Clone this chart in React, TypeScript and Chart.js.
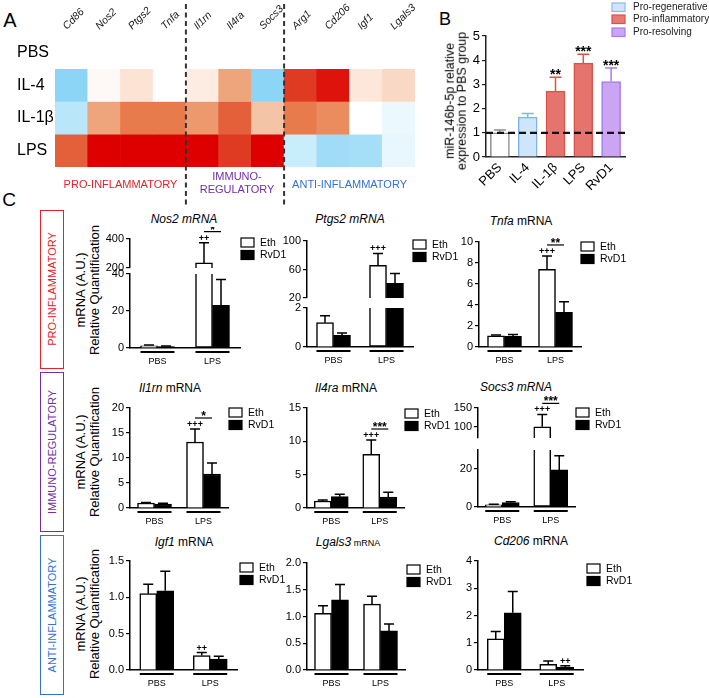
import React, { useEffect, useRef } from 'react';
import { Chart, registerables } from 'chart.js';

Chart.register(...registerables);
const FONT = "'Liberation Sans', Arial, Helvetica, sans-serif";
Chart.defaults.font.family = FONT;
Chart.defaults.color = '#000';

// ================= Panel A (heatmap) =================
const HEAT_GENES = ['Cd86', 'Nos2', 'Ptgs2', 'Tnfa', 'Il1rn', 'Il4ra', 'Socs3', 'Arg1', 'Cd206', 'Igf1', 'Lgals3'];
const HEAT_CONDITIONS = ['PBS', 'IL-4', 'IL-1β', 'LPS'];
const HEAT_PBS = [0, 0, 0, 0, 0, 0, 0, 0, 0, 0, 0];
const HEAT_IL4 = [-0.95, 0.03, 0.15, 0, 0.1, 0.45, -0.95, 0.85, 0.95, 0.13, 0.2];
const HEAT_IL1B = [-0.5, 0.45, 0.62, 0.62, 0.5, 0.72, 0.3, 0.62, 0.55, 0, -0.15];
const HEAT_LPS = [0.72, 1, 1, 1, 1, 0.85, 1, -0.4, -0.8, -0.75, -0.17];
const HEAT_GROUPS = ['PRO-INFLAMMATORY', 'IMMUNO-\nREGULATORY', 'ANTI-INFLAMMATORY'];
const HEAT_GROUP_SPANS = [[0, 3], [4, 6], [7, 10]];

// ================= Panel B =================
const B_GROUPS = ['PBS', 'IL-4', 'IL-1β', 'LPS', 'RvD1'];
const B_MEANS = [1.0, 1.65, 2.72, 3.88, 3.12];
const B_ERR = [1.12, 1.8, 3.3, 4.25, 3.68];
const B_SIG = ['', '', '**', '***', '***'];
const B_TICKS = [0, 1, 2, 3, 4, 5];
const B_REF = 1;
const B_LEGEND = ['Pro-regenerative', 'Pro-inflammatory', 'Pro-resolving'];

// ================= Panel C =================
const C_GROUPS = ['PBS', 'LPS'];
const SERIES_NAMES = ['Eth', 'RvD1'];

const NOS2_ETH = [1.2, 235];
const NOS2_ETH_ERR = [1.6, 375];
const NOS2_RVD1 = [0.8, 23];
const NOS2_RVD1_ERR = [1.1, 37];
const NOS2_TICKS = [0, 10, 20, 30, 40];
const NOS2_TICKS_HIGH = [200, 400];

const PTGS2_ETH = [1.25, 66];
const PTGS2_ETH_ERR = [1.6, 82.5];
const PTGS2_RVD1 = [0.6, 40.5];
const PTGS2_RVD1_ERR = [0.72, 54.5];
const PTGS2_TICKS = [0, 1, 2];
const PTGS2_TICKS_HIGH = [20, 40, 60, 80, 100];

const TNFA_ETH = [1.07, 7.4];
const TNFA_ETH_ERR = [1.15, 8.67];
const TNFA_RVD1 = [1.02, 3.3];
const TNFA_RVD1_ERR = [1.2, 4.3];
const TNFA_TICKS = [0, 2, 4, 6, 8, 10];

const IL1RN_ETH = [1.0, 13.2];
const IL1RN_ETH_ERR = [1.08, 15.8];
const IL1RN_RVD1 = [0.8, 6.8];
const IL1RN_RVD1_ERR = [0.95, 9.0];
const IL1RN_TICKS = [0, 5, 10, 15, 20];

const IL4RA_ETH = [1.05, 8.05];
const IL4RA_ETH_ERR = [1.2, 10.2];
const IL4RA_RVD1 = [1.7, 1.65];
const IL4RA_RVD1_ERR = [2.05, 2.35];
const IL4RA_TICKS = [0, 5, 10, 15];

const SOCS3_ETH = [1.2, 100];
const SOCS3_ETH_ERR = [1.5, 133];
const SOCS3_RVD1 = [2.3, 19.5];
const SOCS3_RVD1_ERR = [2.7, 27];
const SOCS3_TICKS = [0, 10, 20, 30];
const SOCS3_TICKS_HIGH = [100, 150];

const IGF1_ETH = [1.05, 0.2];
const IGF1_ETH_ERR = [1.18, 0.24];
const IGF1_RVD1 = [1.09, 0.15];
const IGF1_RVD1_ERR = [1.36, 0.19];
const IGF1_TICKS = [0, 0.5, 1.0, 1.5];

const LGALS3_ETH = [1.06, 1.23];
const LGALS3_ETH_ERR = [1.2, 1.38];
const LGALS3_RVD1 = [1.31, 0.73];
const LGALS3_RVD1_ERR = [1.6, 0.86];
const LGALS3_TICKS = [0, 0.5, 1.0, 1.5, 2.0];

const CD206_ETH = [1.14, 0.21];
const CD206_ETH_ERR = [1.41, 0.33];
const CD206_RVD1 = [2.1, 0.11];
const CD206_RVD1_ERR = [2.88, 0.16];
const CD206_TICKS = [0, 1, 2, 3, 4];

// ================= styling =================
const RED_STOPS: [number, number[]][] = [
  [0, [255, 255, 255]], [0.15, [252, 227, 212]], [0.3, [244, 196, 166]], [0.45, [238, 165, 124]],
  [0.6, [232, 128, 79]], [0.72, [228, 96, 58]], [0.85, [223, 58, 34]], [1, [222, 0, 0]],
];
const BLUE_STOPS: [number, number[]][] = [
  [0, [255, 255, 255]], [0.2, [228, 246, 253]], [0.4, [200, 237, 251]], [0.5, [185, 231, 249]],
  [0.8, [160, 220, 247]], [1, [134, 210, 245]],
];
function heatColor(v: number): string {
  const stops = v >= 0 ? RED_STOPS : BLUE_STOPS;
  const a = Math.min(Math.abs(v), 1);
  for (let i = 1; i < stops.length; i++) {
    if (a <= stops[i][0]) {
      const [t0, c0] = stops[i - 1];
      const [t1, c1] = stops[i];
      const f = (a - t0) / (t1 - t0);
      const c = c0.map((ch, j) => Math.round(ch + (c1[j] - ch) * f));
      return `rgb(${c[0]},${c[1]},${c[2]})`;
    }
  }
  const l = stops[stops.length - 1][1];
  return `rgb(${l[0]},${l[1]},${l[2]})`;
}

const B_FILLS = ['#ffffff', '#cfe5fb', '#e4746d', '#e4746d', '#c9a5f4'];
const B_BORDERS = ['#8c8c8c', '#80b2eb', '#dc5148', '#dc5148', '#a67aeb'];
const B_LEGEND_FILLS = ['#cfe5fb', '#e57b74', '#caa6f5'];
const B_LEGEND_BORDERS = ['#8ab8ec', '#dc4f46', '#a67bec'];
const SERIES_FILL = ['#ffffff', '#000000'];

const RED = '#e3232b';
const PURPLE = '#6e2fa8';
const BLUE = '#3471d6';

// ================= chart configs =================
const HX = 17; // heatmap canvas left
function heatConfig(): any {
  const rows = [HEAT_PBS, HEAT_IL4, HEAT_IL1B, HEAT_LPS];
  return {
    type: 'bar',
    data: {
      labels: HEAT_GENES,
      datasets: rows.map((row, i) => ({
        label: HEAT_CONDITIONS[i],
        data: row.map(() => 1),
        backgroundColor: row.map(heatColor),
        borderWidth: 0,
        barPercentage: 1,
        categoryPercentage: 1,
        xAxisID: 'x',
        yAxisID: 'y',
      })),
    },
    options: {
      responsive: false, animation: false, events: [],
      layout: { padding: { top: 0, left: 0, right: 12, bottom: 43 } },
      plugins: { legend: { display: false }, tooltip: { enabled: false } },
      scales: {
        x: {
          type: 'category', position: 'top', stacked: true,
          grid: { display: false, drawTicks: false }, border: { display: false },
          ticks: { display: false },
          afterFit: (sc: any) => { sc.height = 36; },
        },
        y: { type: 'linear', display: false, min: 0, max: 4, reverse: true, stacked: true },
        rows: {
          type: 'category', labels: HEAT_CONDITIONS, position: 'left', offset: true,
          grid: { display: false, drawTicks: false }, border: { display: false },
          ticks: { font: { size: 16, family: FONT }, color: '#000', crossAlign: 'far', padding: 0 },
          afterFit: (sc: any) => { sc.width = 38; },
        },
      },
    },
    plugins: [{
      id: 'heatDecor',
      afterDraw(chart: any) {
        const ctx = chart.ctx;
        const xs = chart.scales.x;
        const px = (i: number) => xs.getPixelForValue(i);
        ctx.save();
        // slanted gene labels along the top axis
        ctx.fillStyle = '#1a1a1a';
        ctx.font = `italic 10.5px ${FONT}`;
        ctx.textAlign = 'left';
        ctx.textBaseline = 'alphabetic';
        HEAT_GENES.forEach((gname, i) => {
          ctx.save();
          ctx.translate(px(i) - 4.5, 30);
          ctx.rotate(-Math.PI / 4);
          ctx.fillText(gname, 0, 0);
          ctx.restore();
        });
        // group separators
        ctx.strokeStyle = '#333';
        ctx.lineWidth = 2;
        ctx.setLineDash([5, 3.5]);
        [3, 6].forEach((i) => {
          const x = (px(i) + px(i + 1)) / 2;
          ctx.beginPath(); ctx.moveTo(x, 4); ctx.lineTo(x, 206); ctx.stroke();
        });
        ctx.setLineDash([]);
        const colors = [RED, PURPLE, BLUE];
        ctx.font = `11px ${FONT}`;
        ctx.textAlign = 'center';
        ctx.textBaseline = 'middle';
        HEAT_GROUPS.forEach((g, k) => {
          const [a, b] = HEAT_GROUP_SPANS[k];
          const cx = (px(a) + px(b)) / 2;
          ctx.fillStyle = colors[k];
          const lines = g.split('\n');
          if (lines.length === 1) ctx.fillText(lines[0], cx, 185);
          else { ctx.fillText(lines[0], cx + 2, 177); ctx.fillText(lines[1], cx + 2, 190); }
        });
        ctx.restore();
      },
    }],
  };
}

const BX = 446;
function bConfig(): any {
  return {
    type: 'bar',
    data: {
      labels: B_GROUPS,
      datasets: [{
        label: 'miR-146b-5p',
        data: B_MEANS,
        backgroundColor: B_FILLS,
        borderColor: B_BORDERS,
        borderWidth: 1.5,
        barThickness: 19,
      }],
    },
    options: {
      responsive: false, animation: false, events: [],
      layout: { padding: { top: 36, left: 0, right: 84, bottom: 2 } },
      plugins: { legend: { display: false }, tooltip: { enabled: false } },
      scales: {
        x: {
          type: 'category',
          grid: { display: false, drawTicks: false },
          border: { display: true, color: '#222', width: 1.5 },
          ticks: { font: { size: 13, family: FONT }, color: '#000', minRotation: 45, maxRotation: 45, padding: 3, autoSkip: false },
          afterFit: (sc: any) => { sc.height = 34; },
        },
        y: {
          type: 'linear', min: 0, max: 5,
          afterBuildTicks: (sc: any) => { sc.ticks = B_TICKS.map((v) => ({ value: v })); },
          afterFit: (sc: any) => { sc.width = 40; },
          ticks: { font: { size: 13, family: FONT }, color: '#000', padding: 2 },
          grid: { display: true, drawOnChartArea: false, drawTicks: true, tickLength: 4, color: '#222', lineWidth: 1.2 },
          border: { display: true, color: '#222', width: 1.5 },
        },
      },
    },
    plugins: [{
      id: 'bDecor',
      afterDatasetsDraw(chart: any) {
        const ctx = chart.ctx;
        const ys = chart.scales.y;
        const meta = chart.getDatasetMeta(0);
        const area = chart.chartArea;
        ctx.save();
        B_MEANS.forEach((v, i) => {
          const bar = meta.data[i];
          const y0 = ys.getPixelForValue(v);
          const y1 = ys.getPixelForValue(B_ERR[i]);
          ctx.strokeStyle = B_BORDERS[i];
          ctx.lineWidth = 1.5;
          ctx.beginPath();
          ctx.moveTo(bar.x, y0); ctx.lineTo(bar.x, y1);
          ctx.moveTo(bar.x - 6, y1); ctx.lineTo(bar.x + 6, y1);
          ctx.stroke();
          if (B_SIG[i]) {
            ctx.fillStyle = '#000';
            ctx.font = `bold 14px ${FONT}`;
            ctx.textAlign = 'center';
            ctx.textBaseline = 'alphabetic';
            ctx.fillText(B_SIG[i], bar.x, y1 + 2);
          }
        });
        const yr = ys.getPixelForValue(B_REF);
        ctx.strokeStyle = '#111';
        ctx.lineWidth = 2.2;
        ctx.setLineDash([7, 4]);
        ctx.beginPath(); ctx.moveTo(area.left, yr); ctx.lineTo(area.right, yr); ctx.stroke();
        ctx.setLineDash([]);
        const lx = 612 - BX;
        const lys = [3, 15, 28];
        ctx.font = `10px ${FONT}`;
        ctx.textAlign = 'left';
        ctx.textBaseline = 'middle';
        B_LEGEND.forEach((t, i) => {
          ctx.fillStyle = B_LEGEND_FILLS[i];
          ctx.fillRect(lx, lys[i], 13, 8.5);
          ctx.strokeStyle = B_LEGEND_BORDERS[i];
          ctx.lineWidth = 1.2;
          ctx.strokeRect(lx, lys[i], 13, 8.5);
          ctx.fillStyle = '#222';
          ctx.fillText(t, 633 - BX, lys[i] + 4.5);
        });
        ctx.restore();
      },
    }],
  };
}

type CSpec = {
  id: string;
  L: number; R: number; T: number; B: number;
  eth: number[]; ethErr: number[]; rvd: number[]; rvdErr: number[];
  ticks: number[]; highTicks?: number[]; breakMin?: number; weights?: number[];
  dec: number;
  plus?: { ds: number; text: string };
  star?: string;
  legend: number[];
};

const C_SPECS: CSpec[] = [
  { id: 'nos2', L: 130, R: 240, T: 239, B: 348, eth: NOS2_ETH, ethErr: NOS2_ETH_ERR, rvd: NOS2_RVD1, rvdErr: NOS2_RVD1_ERR,
    ticks: NOS2_TICKS, highTicks: NOS2_TICKS_HIGH, breakMin: 200, weights: [29, 6, 74], dec: 0,
    plus: { ds: 0, text: '++' }, star: '*', legend: [241, 238] },
  { id: 'ptgs2', L: 307, R: 413, T: 241, B: 347, eth: PTGS2_ETH, ethErr: PTGS2_ETH_ERR, rvd: PTGS2_RVD1, rvdErr: PTGS2_RVD1_ERR,
    ticks: PTGS2_TICKS, highTicks: PTGS2_TICKS_HIGH, breakMin: 20, weights: [57, 10, 39], dec: 0,
    plus: { ds: 0, text: '+++' }, legend: [413, 240] },
  { id: 'tnfa', L: 479, R: 581, T: 242, B: 347, eth: TNFA_ETH, ethErr: TNFA_ETH_ERR, rvd: TNFA_RVD1, rvdErr: TNFA_RVD1_ERR,
    ticks: TNFA_TICKS, dec: 0, plus: { ds: 0, text: '+++' }, star: '**', legend: [581, 242] },
  { id: 'il1rn', L: 130, R: 228, T: 408, B: 508, eth: IL1RN_ETH, ethErr: IL1RN_ETH_ERR, rvd: IL1RN_RVD1, rvdErr: IL1RN_RVD1_ERR,
    ticks: IL1RN_TICKS, dec: 0, plus: { ds: 0, text: '+++' }, star: '*', legend: [229, 408] },
  { id: 'il4ra', L: 307, R: 404, T: 408, B: 508, eth: IL4RA_ETH, ethErr: IL4RA_ETH_ERR, rvd: IL4RA_RVD1, rvdErr: IL4RA_RVD1_ERR,
    ticks: IL4RA_TICKS, dec: 0, plus: { ds: 0, text: '+++' }, star: '***', legend: [405, 409] },
  { id: 'socs3', L: 478, R: 575, T: 408, B: 507, eth: SOCS3_ETH, ethErr: SOCS3_ETH_ERR, rvd: SOCS3_RVD1, rvdErr: SOCS3_RVD1_ERR,
    ticks: SOCS3_TICKS, highTicks: SOCS3_TICKS_HIGH, breakMin: 70, weights: [30, 12, 57], dec: 0,
    plus: { ds: 0, text: '+++' }, star: '***', legend: [576, 408] },
  { id: 'igf1', L: 130, R: 237, T: 561, B: 670, eth: IGF1_ETH, ethErr: IGF1_ETH_ERR, rvd: IGF1_RVD1, rvdErr: IGF1_RVD1_ERR,
    ticks: IGF1_TICKS, dec: 1, plus: { ds: 0, text: '++' }, legend: [240, 563] },
  { id: 'lgals3', L: 307, R: 405, T: 563, B: 670, eth: LGALS3_ETH, ethErr: LGALS3_ETH_ERR, rvd: LGALS3_RVD1, rvdErr: LGALS3_RVD1_ERR,
    ticks: LGALS3_TICKS, dec: 1, legend: [407, 565] },
  { id: 'cd206', L: 478, R: 583, T: 561, B: 670, eth: CD206_ETH, ethErr: CD206_ETH_ERR, rvd: CD206_RVD1, rvdErr: CD206_RVD1_ERR,
    ticks: CD206_TICKS, dec: 0, plus: { ds: 1, text: '++' }, legend: [587, 564] },
];

const C_TITLES: { it: string; rest: string; restSize?: number; x: number; y: number }[] = [
  { it: 'Nos2 mRNA', rest: '', x: 184, y: 219 },
  { it: 'Ptgs2 mRNA', rest: '', x: 350, y: 219 },
  { it: 'Tnfa', rest: ' mRNA', x: 521, y: 221 },
  { it: 'Il1rn', rest: ' mRNA', x: 170, y: 388 },
  { it: 'Il4ra', rest: ' mRNA', x: 346, y: 388 },
  { it: 'Socs3 mRNA', rest: '', x: 516, y: 387 },
  { it: 'Igf1', rest: ' mRNA', x: 184, y: 542 },
  { it: 'Lgals3', rest: ' mRNA', restSize: 9, x: 348, y: 542 },
  { it: 'Cd206', rest: ' mRNA', x: 531, y: 541 },
];

const CW = 40; // y axis width
const CTOP = 12;
function cGeom(s: CSpec) {
  return { x: s.L - CW, y: s.T - CTOP, w: s.R - s.L + CW + 62, h: s.B - s.T + CTOP + 22 };
}

function smallConfig(s: CSpec): any {
  const g = cGeom(s);
  const lowMax = s.ticks[s.ticks.length - 1];
  const hasBreak = !!s.highTicks;
  const highTicks = s.highTicks || [];
  const highMax = highTicks[highTicks.length - 1];
  const bm = s.breakMin ?? 0;
  const series = [s.eth, s.rvd];
  const errs = [s.ethErr, s.rvdErr];

  const datasets: any[] = series.map((vals, k) => ({
    label: SERIES_NAMES[k],
    data: hasBreak ? vals.map((v) => Math.min(v, lowMax)) : vals.slice(),
    backgroundColor: SERIES_FILL[k], borderColor: '#000', borderWidth: 1.5,
    borderSkipped: (c: any) => (hasBreak && c.raw >= lowMax ? 'top' : 'start'),
    stack: SERIES_NAMES[k], xAxisID: 'x', yAxisID: 'y', barThickness: 17,
  }));
  if (hasBreak) {
    series.forEach((vals, k) => datasets.push({
      label: SERIES_NAMES[k] + ' (upper)',
      data: vals.map((v) => (v > bm ? [bm, v] : null)),
      backgroundColor: SERIES_FILL[k], borderColor: '#000', borderWidth: 1.5,
      borderSkipped: 'bottom',
      stack: SERIES_NAMES[k], xAxisID: 'x', yAxisID: 'yHigh', barThickness: 17,
    }));
  }

  const yAxis = (ticks: number[], min: number, max: number) => ({
    type: 'linear', position: 'left', min, max, stacked: false,
    afterBuildTicks: (sc: any) => { sc.ticks = ticks.map((v) => ({ value: v })); },
    afterFit: (sc: any) => { sc.width = CW; },
    ticks: { font: { size: 11, family: FONT }, color: '#000', padding: 2, callback: (v: any) => Number(v).toFixed(s.dec) },
    grid: { display: true, drawOnChartArea: false, drawTicks: true, tickLength: 4, color: '#000', lineWidth: 1.2 },
    border: { display: true, color: '#000', width: 1.5 },
  });

  const scales: any = {
    x: {
      type: 'category',
      grid: { display: false, drawTicks: false },
      border: { display: true, color: '#000', width: 1.5 },
      ticks: { font: { size: 9, family: FONT }, color: '#000', padding: 8, maxRotation: 0, autoSkip: false },
      afterFit: (sc: any) => { sc.height = 20; },
    },
  };
  if (hasBreak) {
    const w = s.weights || [1, 0.2, 2];
    scales.y = { ...yAxis(s.ticks, 0, lowMax), stack: 'v', stackWeight: w[2] };
    scales.yGap = {
      type: 'linear', position: 'left', min: 0, max: 1, stack: 'v', stackWeight: w[1],
      ticks: { display: false }, grid: { display: false, drawTicks: false }, border: { display: false },
      afterFit: (sc: any) => { sc.width = CW; },
    };
    scales.yHigh = { ...yAxis(highTicks, bm, highMax), stack: 'v', stackWeight: w[0] };
  } else {
    scales.y = yAxis(s.ticks, 0, lowMax);
  }

  return {
    type: 'bar',
    data: { labels: C_GROUPS, datasets },
    options: {
      responsive: false, animation: false, events: [],
      layout: { padding: { top: CTOP, left: 0, right: 62, bottom: 2 } },
      plugins: { legend: { display: false }, tooltip: { enabled: false } },
      scales,
    },
    plugins: [{
      id: 'cDecor_' + s.id,
      afterDatasetsDraw(chart: any) {
        const ctx = chart.ctx;
        const yLow = chart.scales.y;
        const yHigh = chart.scales.yHigh;
        const pix = (v: number) => (hasBreak && v > bm ? yHigh.getPixelForValue(v) : yLow.getPixelForValue(v));
        const metas = [chart.getDatasetMeta(0), chart.getDatasetMeta(1)];
        ctx.save();
        ctx.strokeStyle = '#000';
        ctx.lineWidth = 1.5;
        series.forEach((vals, k) => vals.forEach((v, gi) => {
          const bar = metas[k].data[gi];
          const y0 = pix(v);
          const y1 = pix(errs[k][gi]);
          ctx.beginPath();
          ctx.moveTo(bar.x, y0); ctx.lineTo(bar.x, y1);
          ctx.moveTo(bar.x - 5, y1); ctx.lineTo(bar.x + 5, y1);
          ctx.stroke();
        }));
        const area = chart.chartArea;
        C_GROUPS.forEach((_, gi) => {
          const b0 = metas[0].data[gi];
          const b1 = metas[1].data[gi];
          ctx.lineWidth = 2;
          ctx.beginPath();
          ctx.moveTo(b0.x - b0.width / 2, area.bottom + 4);
          ctx.lineTo(b1.x + b1.width / 2, area.bottom + 4);
          ctx.stroke();
        });
        ctx.fillStyle = '#000';
        ctx.textAlign = 'center';
        ctx.textBaseline = 'alphabetic';
        if (s.plus) {
          const k = s.plus.ds;
          const bar = metas[k].data[1];
          ctx.font = `bold 9px ${FONT}`;
          ctx.fillText(s.plus.text, bar.x, pix(errs[k][1]) - 2);
        }
        if (s.star) {
          const x0 = metas[0].data[1].x;
          const x1 = metas[1].data[1].x;
          const yl = Math.min(pix(s.ethErr[1]), pix(s.rvdErr[1])) - 11;
          ctx.lineWidth = 1.2;
          ctx.beginPath(); ctx.moveTo(x0, yl); ctx.lineTo(x1, yl); ctx.stroke();
          ctx.font = `bold 12px ${FONT}`;
          ctx.fillText(s.star, (x0 + x1) / 2, yl + 2);
        }
        const lx = s.legend[0] - g.x;
        const ly = s.legend[1] - g.y;
        ctx.font = `10.5px ${FONT}`;
        ctx.textAlign = 'left';
        ctx.textBaseline = 'middle';
        SERIES_NAMES.forEach((n, k) => {
          const yy = ly + k * 12.5;
          ctx.fillStyle = SERIES_FILL[k];
          ctx.fillRect(lx, yy, 13, 9);
          ctx.strokeStyle = '#000';
          ctx.lineWidth = 1.2;
          ctx.strokeRect(lx, yy, 13, 9);
          ctx.fillStyle = '#000';
          ctx.fillText(n, lx + 19, yy + 5);
        });
        ctx.restore();
      },
    }],
  };
}

// ================= components =================
function ChartCanvas({ x, y, w, h, make }: { x: number; y: number; w: number; h: number; make: () => any }) {
  const ref = useRef<HTMLCanvasElement | null>(null);
  useEffect(() => {
    if (!ref.current) return;
    const chart = new Chart(ref.current, make());
    return () => chart.destroy();
  }, []);
  return (
    <canvas ref={ref} width={w} height={h}
      style={{ position: 'absolute', left: x, top: y, width: w, height: h }} />
  );
}

function Txt({ x, y, size, children, color = '#000', rot = false, lh = 1, weight = 400 }:
  { x: number; y: number; size: number; children: any; color?: string; rot?: boolean; lh?: number; weight?: number }) {
  return (
    <div style={{
      position: 'absolute', left: x, top: y,
      transform: `translate(-50%,-50%)${rot ? ' rotate(-90deg)' : ''}`,
      fontFamily: FONT, fontSize: size, color, whiteSpace: 'nowrap', lineHeight: lh,
      fontWeight: weight, textAlign: 'center',
    }}>{children}</div>
  );
}

function SideBox({ top, height, color, text }: { top: number; height: number; color: string; text: string }) {
  return (
    <div style={{
      position: 'absolute', left: 40, top, width: 24, height, boxSizing: 'border-box',
      border: `1.5px solid ${color}`,
    }}>
      <Txt x={10.5} y={height / 2 - 1.5} size={11} color={color} rot>{text}</Txt>
    </div>
  );
}

export default function App() {
  return (
    <div style={{ position: 'absolute', left: 0, top: 0, width: 709, height: 698, background: '#fff', overflow: 'hidden' }}>
      <Txt x={10} y={19.5} size={20}>A</Txt>
      <Txt x={445} y={19} size={18}>B</Txt>
      <Txt x={9} y={198.5} size={19}>C</Txt>

      <ChartCanvas x={HX} y={0} w={410} h={210} make={heatConfig} />
      <ChartCanvas x={BX} y={0} w={263} h={193} make={bConfig} />

      <Txt x={455.5} y={101} size={12.5} rot lh={0.98}>
        miR-146b-5p relative<br />expression to PBS group
      </Txt>

      <SideBox top={210} height={159} color={RED} text="PRO-INFLAMMATORY" />
      <SideBox top={372} height={160} color={PURPLE} text="IMMUNO-REGULATORY" />
      <SideBox top={535} height={160} color={BLUE} text="ANTI-INFLAMMATORY" />

      {[290, 452, 614].map((cy) => (
        <Txt key={cy} x={88} y={cy} size={13} rot lh={1.04}>
          mRNA (A.U.)<br />Relative Quantification
        </Txt>
      ))}

      {C_TITLES.map((t, i) => (
        <Txt key={'t' + i} x={t.x} y={t.y} size={12}>
          <i>{t.it}</i>{t.rest ? <span style={{ fontSize: t.restSize || 12 }}>{t.rest}</span> : null}
        </Txt>
      ))}

      {C_SPECS.map((s) => {
        const g = cGeom(s);
        return <ChartCanvas key={s.id} x={g.x} y={g.y} w={g.w} h={g.h} make={() => smallConfig(s)} />;
      })}
    </div>
  );
}
